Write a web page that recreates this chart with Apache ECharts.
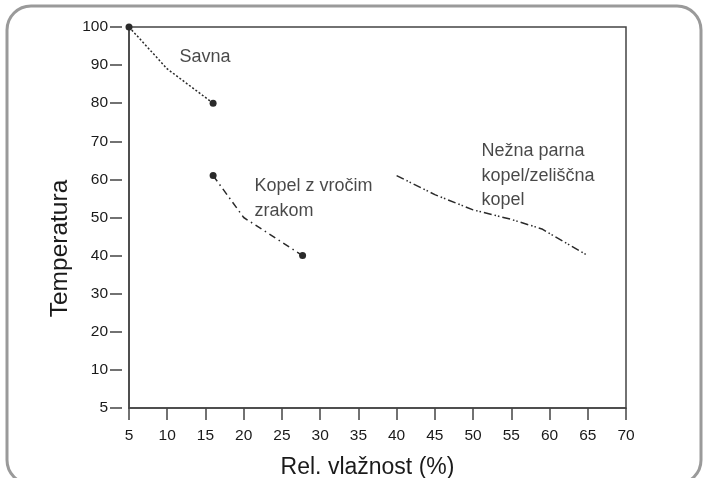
<!DOCTYPE html>
<html>
<head>
<meta charset="utf-8">
<script src="https://cdn.jsdelivr.net/npm/echarts@6/dist/echarts.min.js"></script>
<style>
  html, body { margin: 0; padding: 0; background: #fff; }
  #chart { width: 705px; height: 478px; }
</style>
</head>
<body>
<div id="chart"></div>
<script>
// Humidity (%) vs temperature (°C) ranges for three kinds of bath
const savna = [[5, 100], [10, 89], [16, 80]];
const kopelVrociZrak = [[16, 61], [20, 50], [27.7, 40]];
const neznaKopel = [[40, 61], [45, 56], [50, 52], [55, 49.5], [59, 47], [65, 40]];

// Y tick labels, bottom to top (the lowest tick is labelled 5)
const yTickLabels = ['5', '10', '20', '30', '40', '50', '60', '70', '80', '90', '100'];

// Series captions and the data point each caption starts at
const captions = ['Savna', 'Kopel z vročim\nzrakom', 'Nežna parna\nkopel/zeliščna\nkopel'];
const captionAnchors = [[11.6, 92], [21.4, 55], [51.1, 60.9]];

const FONT = '"Liberation Sans", Arial, Helvetica, sans-serif';
const INK = '#2a2a2a';
const AXIS = '#444';

const chart = echarts.init(document.getElementById('chart'), null, { renderer: 'canvas' });

const endMarkers = (data) => data.map((p, i) => ({
  value: p,
  symbol: (i === 0 || i === data.length - 1) ? 'circle' : 'none',
  symbolSize: 7
}));

chart.setOption({
  animation: false,
  backgroundColor: '#fff',
  textStyle: { fontFamily: FONT },
  graphic: [{
    type: 'rect',
    shape: { x: 7, y: 6, width: 694, height: 478, r: 24 },
    style: { fill: 'none', stroke: '#9a9a9a', lineWidth: 3 },
    z: 100
  }],
  grid: {
    left: 129, right: 79, top: 27, bottom: 70,
    outerBoundsMode: 'none', containLabel: false,
    show: true, borderColor: AXIS, borderWidth: 1.5, backgroundColor: 'transparent'
  },
  xAxis: [{
    type: 'value', min: 5, max: 70, interval: 5,
    axisLine: { show: true, lineStyle: { color: AXIS, width: 1.5 } },
    axisTick: { show: false },
    axisLabel: { show: false },
    splitLine: { show: false },
    name: 'Rel. vlažnost (%)', nameLocation: 'middle', nameGap: 48,
    nameTextStyle: { fontSize: 23, color: '#1a1a1a', fontFamily: FONT, padding: [0, 20, 0, 0] }
  }, {
    type: 'value', min: 5, max: 70, interval: 5, position: 'bottom', offset: 5,
    axisLine: { show: false },
    axisTick: { show: true, length: 12, lineStyle: { color: AXIS, width: 1.5 } },
    axisLabel: { margin: 15, fontSize: 15.5, color: '#1a1a1a', fontFamily: FONT },
    splitLine: { show: false }
  }],
  yAxis: [{
    type: 'value', min: 0, max: 100, interval: 10,
    axisLine: { show: true, lineStyle: { color: AXIS, width: 1.5 } },
    axisTick: { show: false },
    axisLabel: { show: false },
    splitLine: { show: false },
    name: 'Temperatura', nameLocation: 'middle', nameGap: 56,
    nameTextStyle: { fontSize: 24.5, color: '#1a1a1a', fontFamily: FONT, padding: [0, 62, 0, 0] }
  }, {
    type: 'value', min: 0, max: 100, interval: 10, position: 'left', offset: 7,
    axisLine: { show: false },
    axisTick: { show: true, length: 12, lineStyle: { color: AXIS, width: 1.5 } },
    axisLabel: {
      margin: 14, fontSize: 15.5, color: '#1a1a1a', fontFamily: FONT,
      formatter: (v) => yTickLabels[Math.round(v / 10)]
    },
    splitLine: { show: false }
  }],
  series: [{
    name: 'Savna', type: 'line', xAxisIndex: 0, yAxisIndex: 0,
    data: endMarkers(savna),
    itemStyle: { color: INK },
    lineStyle: { color: INK, width: 1.5, type: [2, 2] },
    z: 5
  }, {
    name: 'Kopel z vročim zrakom', type: 'line', xAxisIndex: 0, yAxisIndex: 0,
    data: endMarkers(kopelVrociZrak),
    itemStyle: { color: INK },
    lineStyle: { color: INK, width: 1.5, type: [7, 4, 1.5, 4] },
    z: 5
  }, {
    name: 'Nežna parna kopel/zeliščna kopel', type: 'line', xAxisIndex: 0, yAxisIndex: 0,
    data: neznaKopel, symbol: 'none',
    lineStyle: { color: INK, width: 1.5, type: [8, 3, 1.5, 2, 1.5, 3] },
    z: 5
  }, {
    type: 'scatter', xAxisIndex: 0, yAxisIndex: 0,
    symbolSize: 0, silent: true,
    data: captionAnchors.map((p, i) => ({ value: p, name: captions[i] })),
    label: {
      show: true, position: 'right', distance: 0,
      formatter: (p) => p.name,
      fontSize: 18, lineHeight: 24.5, color: '#1a1a1a', fontFamily: FONT, align: 'left'
    }
  }]
});
</script>
</body>
</html>
